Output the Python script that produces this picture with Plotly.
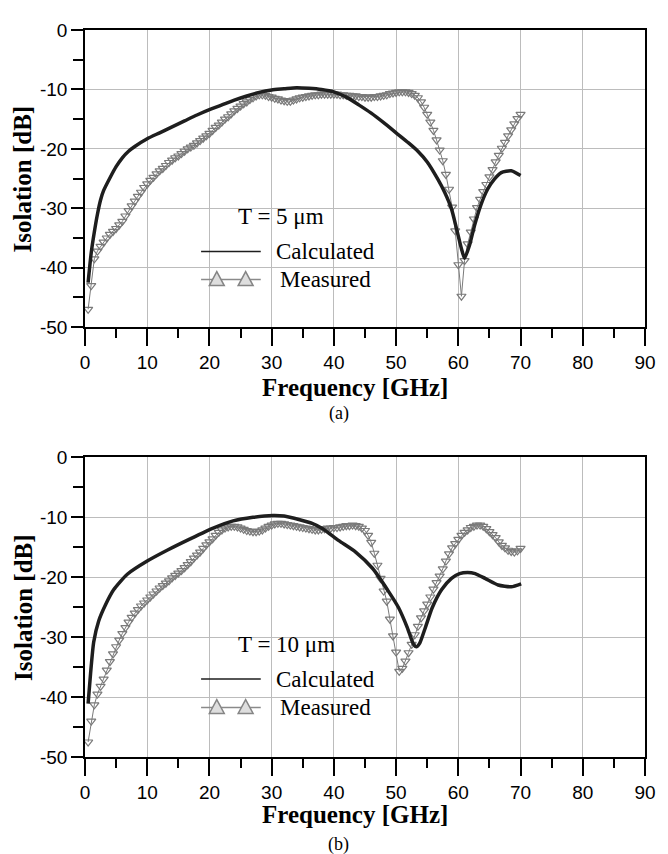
import plotly.graph_objects as go

# ---------------- data ----------------
meas_freq = [0.5, 1.0, 1.5, 2.0, 2.5, 3.0, 3.5, 4.0, 4.5, 5.0, 5.5, 6.0, 6.5, 7.0, 7.5, 8.0, 8.5, 9.0, 9.5, 10.0,
             10.5, 11.0, 11.5, 12.0, 12.5, 13.0, 13.5, 14.0, 14.5, 15.0, 15.5, 16.0, 16.5, 17.0, 17.5, 18.0, 18.5, 19.0, 19.5, 20.0,
             20.5, 21.0, 21.5, 22.0, 22.5, 23.0, 23.5, 24.0, 24.5, 25.0, 25.5, 26.0, 26.5, 27.0, 27.5, 28.0, 28.5, 29.0, 29.5, 30.0,
             30.5, 31.0, 31.5, 32.0, 32.5, 33.0, 33.5, 34.0, 34.5, 35.0, 35.5, 36.0, 36.5, 37.0, 37.5, 38.0, 38.5, 39.0, 39.5, 40.0,
             40.5, 41.0, 41.5, 42.0, 42.5, 43.0, 43.5, 44.0, 44.5, 45.0, 45.5, 46.0, 46.5, 47.0, 47.5, 48.0, 48.5, 49.0, 49.5, 50.0,
             50.5, 51.0, 51.5, 52.0, 52.5, 53.0, 53.5, 54.0, 54.5, 55.0, 55.5, 56.0, 56.5, 57.0, 57.5, 58.0, 58.5, 59.0, 59.5, 60.0,
             60.5, 61.0, 61.5, 62.0, 62.5, 63.0, 63.5, 64.0, 64.5, 65.0, 65.5, 66.0, 66.5, 67.0, 67.5, 68.0, 68.5, 69.0, 69.5, 70.0]

meas_a = [-47.0, -43.0, -38.5, -37.2, -36.4, -35.7, -35.0, -34.4, -33.9, -33.4, -32.8, -32.2, -31.3, -30.4, -29.6, -28.8, -28.0, -27.3, -26.5, -25.9,
          -25.3, -24.8, -24.2, -23.7, -23.3, -22.8, -22.3, -21.9, -21.5, -21.2, -20.8, -20.4, -20.0, -19.7, -19.4, -19.0, -18.6, -18.2, -17.8, -17.4,
          -16.9, -16.4, -16.0, -15.5, -15.0, -14.6, -14.1, -13.6, -13.2, -12.8, -12.4, -12.1, -11.7, -11.4, -11.1, -10.9, -10.9, -11.0, -11.2, -11.3,
          -11.5, -11.6, -11.8, -11.9, -12.0, -12.0, -11.8, -11.6, -11.4, -11.3, -11.2, -11.1, -11.0, -10.9, -10.9, -10.8, -10.8, -10.8, -10.8, -10.8,
          -10.8, -10.9, -10.9, -11.0, -11.0, -11.1, -11.1, -11.2, -11.2, -11.3, -11.3, -11.3, -11.2, -11.2, -11.1, -11.0, -10.9, -10.7, -10.6, -10.5,
          -10.4, -10.4, -10.4, -10.5, -10.7, -11.0, -11.4, -12.1, -13.0, -14.2, -15.5, -16.9, -18.5, -20.2, -22.0, -24.3, -26.8, -29.8, -33.8, -39.5,
          -44.8, -38.8, -36.0, -34.0, -31.8, -29.9, -28.5, -27.2, -26.0, -24.7, -23.5, -22.2, -21.1, -19.9, -18.9, -17.8, -16.8, -15.8, -14.9, -14.2]

meas_b = [-47.5, -44.0, -41.3, -39.5, -38.2, -37.0, -35.5, -34.1, -32.8, -31.6, -30.5, -29.4, -28.4, -27.5, -26.7, -26.0, -25.4, -24.8, -24.3, -23.8,
          -23.3, -22.8, -22.3, -21.8, -21.4, -21.0, -20.6, -20.1, -19.7, -19.3, -18.9, -18.4, -17.9, -17.4, -16.8, -16.3, -15.8, -15.2, -14.6, -14.1,
          -13.6, -13.0, -12.5, -12.1, -11.8, -11.6, -11.5, -11.5, -11.6, -11.8, -12.0, -12.2, -12.3, -12.4, -12.4, -12.3, -12.1, -11.8, -11.5, -11.3,
          -11.1, -11.0, -11.0, -11.1, -11.2, -11.3, -11.4, -11.5, -11.6, -11.7, -11.8, -11.9, -12.0, -12.1, -12.1, -12.0, -11.9, -11.8, -11.8, -11.7,
          -11.7, -11.6, -11.5, -11.4, -11.4, -11.3, -11.4, -11.5, -11.8, -12.2, -13.0, -14.2, -16.0, -18.0, -20.2, -22.3, -24.0, -27.0, -29.8, -32.5,
          -35.7, -35.2, -34.0, -32.6, -31.2, -29.6, -28.2, -26.8, -25.6, -24.5, -23.3, -22.0, -20.9, -19.8, -18.6, -17.3, -16.1, -15.1, -14.4, -13.7,
          -13.0, -12.5, -12.1, -11.7, -11.5, -11.3, -11.3, -11.5, -11.9, -12.4, -12.9, -13.4, -14.1, -14.7, -15.1, -15.5, -15.7, -15.8, -15.6, -15.2]

calc_a_freq = [0.5, 1.0, 1.5, 2.0, 2.5, 3.0, 4.0, 5.0, 6.0, 7.0, 8.0, 10.0, 12.0, 14.0, 16.0, 18.0, 20.0, 22.0, 24.0, 26.0,
               28.0, 30.0, 32.0, 34.0, 36.0, 38.0, 40.0, 42.0, 44.0, 46.0, 48.0, 50.0, 52.0, 53.5, 55.0, 56.7, 57.8, 58.9, 59.7, 60.5,
               61.0, 61.8, 62.6, 63.6, 64.7, 65.8, 66.9, 68.5, 70.0]
calc_a = [-42.5, -37.5, -34.0, -31.0, -28.6, -27.0, -24.9, -23.0, -21.5, -20.4, -19.6, -18.3, -17.3, -16.3, -15.3, -14.3, -13.4, -12.6, -11.8, -11.1,
          -10.5, -10.1, -9.9, -9.7, -9.8, -10.0, -10.4, -11.3, -12.6, -14.0, -15.6, -17.3, -19.0, -20.4, -22.2, -25.1, -27.3, -30.1, -33.4, -36.8,
          -38.4, -36.2, -32.9, -29.5, -26.8, -25.1, -24.0, -23.7, -24.5]

calc_b_freq = [0.5, 0.9, 1.4, 2.2, 3.3, 4.6, 6.8, 10.0, 13.2, 16.9, 20.6, 23.8, 27.0, 30.2, 32.0, 34.5, 36.5, 38.2, 40.8, 43.5,
               46.2, 48.8, 50.4, 51.8, 52.8, 53.3, 53.8, 54.7, 55.8, 57.3, 58.9, 60.2, 61.5, 62.7, 64.3, 66.4, 68.5, 70.1]
calc_b = [-41.1, -36.0, -30.8, -27.3, -24.6, -22.1, -19.5, -17.3, -15.5, -13.6, -11.8, -10.6, -10.0, -9.7, -9.8, -10.4, -11.0, -11.9, -13.9, -15.8,
          -18.5, -22.4, -25.1, -28.4, -31.2, -31.6, -31.0, -28.4, -25.1, -22.1, -20.2, -19.4, -19.2, -19.4, -20.2, -21.3, -21.6, -21.1]

x_ticks = [0, 10, 20, 30, 40, 50, 60, 70, 80, 90]
y_ticks = [0, -10, -20, -30, -40, -50]
y_ticktext = ["0", "-10", "-20", "-30", "-40", "-50"]
panel_labels = ["(a)", "(b)"]
thickness_labels = ["T = 5 \u03bcm", "T = 10 \u03bcm"]
series_names = ["Calculated", "Measured"]

# ---------------- layout helpers ----------------
# the page body has an 8 px margin, so the figure is drawn 8 px smaller and
# every target pixel position (measured in the 668x854 window) is shifted by 8
OFF = 8
WIN_W, WIN_H = 668, 854
W, H = WIN_W - OFF, WIN_H - OFF
ML, MR, MT, MB = 85 - OFF, 20, 23 - OFF, 97
PW, PH = W - ML - MR, H - MT - MB


def px(xp):
    return (xp - OFF - ML) / PW


def py(yp):
    return (H - MB - (yp - OFF)) / PH


SERIF = "Liberation Serif, Times New Roman, serif"
SANS = "Liberation Sans, Arial, sans-serif"
CALC_COLOR = "#1e1e1e"
MEAS_COLOR = "#7a7a7a"

fig = go.Figure()

panels = [
    dict(freq=meas_freq, meas=meas_a, cf=calc_a_freq, calc=calc_a, xa="x", ya="y"),
    dict(freq=meas_freq, meas=meas_b, cf=calc_b_freq, calc=calc_b, xa="x2", ya="y2"),
]
for p in panels:
    fig.add_trace(go.Scatter(
        x=p["freq"], y=p["meas"], mode="lines+markers", xaxis=p["xa"], yaxis=p["ya"],
        line=dict(color=MEAS_COLOR, width=1),
        marker=dict(symbol="triangle-down-open", size=8, color=MEAS_COLOR, line=dict(width=1.2, color=MEAS_COLOR)),
        showlegend=False, name=series_names[1]))
    fig.add_trace(go.Scatter(
        x=p["cf"], y=p["calc"], mode="lines", xaxis=p["xa"], yaxis=p["ya"],
        line=dict(color=CALC_COLOR, width=3.5, shape="spline", smoothing=0.6),
        showlegend=False, name=series_names[0]))


def xaxis_cfg(anchor):
    return dict(
        range=[0, 90], anchor=anchor, domain=[0, 1],
        tickmode="array", tickvals=x_ticks, ticktext=[str(v) for v in x_ticks],
        ticks="outside", ticklen=17, tickwidth=1.5, tickcolor="black",
        minor=dict(dtick=5, tick0=0, ticks="outside", ticklen=9, tickwidth=1.5, tickcolor="black", showgrid=False),
        showgrid=True, gridcolor="#bcbcbc", gridwidth=1.2,
        showline=True, linecolor="black", linewidth=1.5, mirror=True,
        zeroline=False, tickfont=dict(family=SANS, size=19, color="black"),
    )


def yaxis_cfg(anchor, dom):
    return dict(
        range=[-50, 0], anchor=anchor, domain=dom,
        tickmode="array", tickvals=y_ticks, ticktext=y_ticktext,
        ticks="outside", ticklen=12, tickwidth=1.5, tickcolor="black",
        minor=dict(dtick=5, tick0=0, ticks="outside", ticklen=10, tickwidth=1.5, tickcolor="black", showgrid=False),
        showgrid=True, gridcolor="#bcbcbc", gridwidth=1.2,
        showline=True, linecolor="black", linewidth=1.5, mirror=True,
        zeroline=False, tickfont=dict(family=SANS, size=19, color="black"),
    )


top_dom = [py(323), 1.0]
bot_dom = [0.0, py(757.3) if py(757.3) > 0 else 0.0]
bot_dom = [0.0, py(454.5)]

annotations = []
shapes = []

panel_px = [
    dict(top=23, bottom=323, title_y=384, lab_y=410, t_y=211.7, c_y=246.7, m_y=275),
    dict(top=454.5, bottom=757, title_y=815, lab_y=845, t_y=643, c_y=678.3, m_y=707),
]
for i, pp in enumerate(panel_px):
    mid = (pp["top"] + pp["bottom"]) / 2
    annotations.append(dict(text="<b>Frequency [GHz]</b>", x=px(356), y=py(pp["title_y"]), xref="paper", yref="paper",
                            showarrow=False, xanchor="center", yanchor="middle",
                            font=dict(family=SERIF, size=25, color="black")))
    annotations.append(dict(text="<b>Isolation [dB]</b>", x=px(22.5), y=py(mid), xref="paper", yref="paper",
                            showarrow=False, xanchor="center", yanchor="middle", textangle=-90,
                            font=dict(family=SERIF, size=25, color="black")))
    annotations.append(dict(text=panel_labels[i], x=px(340), y=py(pp["lab_y"]), xref="paper", yref="paper",
                            showarrow=False, xanchor="center", yanchor="middle",
                            font=dict(family=SERIF, size=18, color="black")))
    # legend block
    annotations.append(dict(text=thickness_labels[i], x=px(237), y=py(pp["t_y"]), xref="paper", yref="paper",
                            showarrow=False, xanchor="left", yanchor="middle",
                            font=dict(family=SERIF, size=23, color="black")))
    annotations.append(dict(text=series_names[0], x=px(275), y=py(pp["c_y"]), xref="paper", yref="paper",
                            showarrow=False, xanchor="left", yanchor="middle",
                            font=dict(family=SERIF, size=23, color="black")))
    annotations.append(dict(text=series_names[1], x=px(279), y=py(pp["m_y"]), xref="paper", yref="paper",
                            showarrow=False, xanchor="left", yanchor="middle",
                            font=dict(family=SERIF, size=23, color="black")))
    shapes.append(dict(type="line", xref="paper", yref="paper", x0=px(201.7), x1=px(261.7),
                       y0=py(pp["c_y"]), y1=py(pp["c_y"]), line=dict(color=CALC_COLOR, width=1.5)))
    shapes.append(dict(type="line", xref="paper", yref="paper", x0=px(201.7), x1=px(261.7),
                       y0=py(pp["m_y"]), y1=py(pp["m_y"]), line=dict(color="#8a8a8a", width=1.5)))
    for cx in (217.5, 246.5):
        yc = pp["m_y"]
        path = "M {:.5f},{:.5f} L {:.5f},{:.5f} L {:.5f},{:.5f} Z".format(
            px(cx - 7.5), py(yc + 6), px(cx + 7.5), py(yc + 6), px(cx), py(yc - 8))
        shapes.append(dict(type="path", xref="paper", yref="paper", path=path,
                           fillcolor="#dedede", line=dict(color="#858585", width=1.5)))

fig.update_layout(
    width=W, height=H,
    margin=dict(l=ML, r=MR, t=MT, b=MB),
    paper_bgcolor="white", plot_bgcolor="white",
    xaxis=xaxis_cfg("y"), yaxis=yaxis_cfg("x", top_dom),
    xaxis2=xaxis_cfg("y2"), yaxis2=yaxis_cfg("x2", bot_dom),
    annotations=annotations, shapes=shapes,
    showlegend=False,
)

fig.write_html("out.html")
